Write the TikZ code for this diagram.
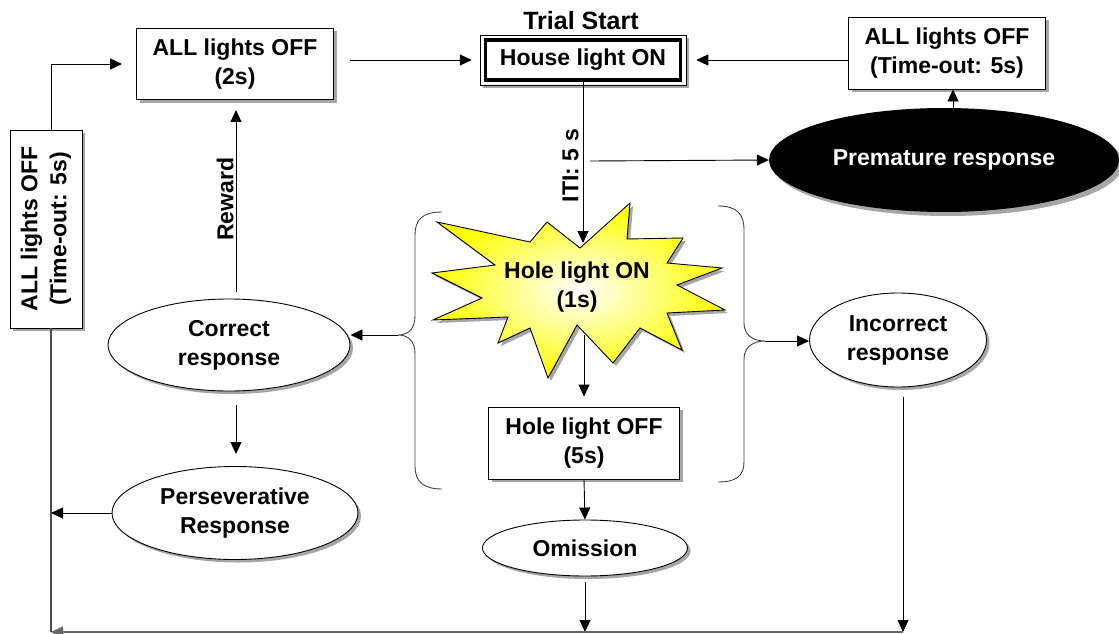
\documentclass[tikz,border=0pt]{standalone}
\usepackage{fontspec}
\setmainfont{Liberation Sans}
\usetikzlibrary{shapes.geometric,arrows.meta,shadows,calc}
\begin{document}
\begin{tikzpicture}[x=1pt,y=-1pt,
  every node/.style={font=\fontsize{23}{29}\selectfont\bfseries, align=center, inner sep=0pt},
  shad/.style={drop shadow={shadow xshift=3pt, shadow yshift=-3pt, fill=black!35, opacity=1}},
  box/.style={rectangle, draw, fill=white, line width=0.9pt, shad},
  oval/.style={ellipse, draw, fill=white, line width=0.9pt, shad},
  arr/.style={-{Triangle[length=12pt,width=11pt]}, line width=0.9pt},
  brace/.style={draw=black!75, line width=0.9pt},
  grayline/.style={draw=black!60, line width=1.6pt},
  starpath/.style={insert path={(437,222) -- (530,242) -- (547,222) -- (580,248) -- (630,203) -- (627,239) -- (683,238) -- (667,263) -- (722,268) -- (677,285) -- (725,310) -- (667,313) -- (682,350) -- (640,328) -- (613,363) -- (577,325) -- (548,378) -- (530,328) -- (498,343) -- (508,317) -- (433,320) -- (482,298) -- (432,273) -- (495,265) -- cycle}}
]
\useasboundingbox (0,0) rectangle (1119,634);

% top row
\node[box, minimum width=197pt, minimum height=71pt] (off2) at (235,64) {ALL lights OFF\\(2s)};
\fill[black!35] (483,38) rectangle (689,88);
\draw[fill=white, line width=0.9pt] (480,35) rectangle (686,85);
\node[draw, line width=3.5pt, fill=white, minimum width=195pt, minimum height=40pt] (house) at (583,60) {House light ON};
\node[font=\fontsize{25}{29}\selectfont\bfseries] (trial) at (581,21) {Trial Start};
\node[box, minimum width=197pt, minimum height=72pt] (offR) at (947,53) {ALL lights OFF\\(Time-out: 5s)};
\fill[black!35] (948,164) ellipse [x radius=175pt, y radius=52pt];
\fill[black] (944,160) ellipse [x radius=175pt, y radius=52pt];
\node[ellipse, text=white, minimum width=350pt, minimum height=104pt] (prem) at (944,160) {Premature response};

% left time-out box
\fill[black!35] (13,133) rectangle (85,331);
\node[rectangle, draw, fill=white, line width=0.9pt, rotate=90, minimum width=198pt, minimum height=72pt] (offL) at (46,229) {ALL lights OFF\\(Time-out: 5s)};

% star
\fill[black!35, shift={(3,3)}] [starpath];
\shade[draw=black, line width=0.9pt, inner color=white, outer color=yellow] [starpath];
\node (star) at (577,287) {Hole light ON\\(1s)};
\coordinate (starTop) at (583,243);
\coordinate (starBot) at (584,335);

% other nodes
\node[oval, minimum width=242pt, minimum height=92pt] (corr) at (229,345) {Correct\\response};
\node[oval, minimum width=246pt, minimum height=93pt] (pers) at (235,513) {Perseverative\\Response};
\node[box, minimum width=191pt, minimum height=72pt] (hoff) at (584,443) {Hole light OFF\\(5s)};
\node[oval, minimum width=205pt, minimum height=56pt] (omis) at (585,548) {Omission};
\node[oval, minimum width=177pt, minimum height=94pt] (inc) at (898,340) {Incorrect\\response};

% braces
\coordinate (lbr) at (398,335);
\coordinate (rbr) at (765,341);
\draw[brace] (442,212) .. controls (422,212) and (415,220) .. (415,235) -- (415,316) .. controls (415,328) and (409,335) .. (lbr) .. controls (409,335) and (415,342) .. (415,354) -- (415,466) .. controls (415,482) and (424,489) .. (442,489);
\draw[brace] (718,206) .. controls (737,206) and (744,214) .. (744,230) -- (744,323) .. controls (744,334) and (752,341) .. (rbr) .. controls (752,341) and (744,348) .. (744,359) -- (744,462) .. controls (744,476) and (736,482) .. (718,482);

% bottom return
\coordinate (botL) at (51,632);
\coordinate (botR) at (903,632);
\coordinate (itiB) at (590,161);

% connectors
\draw[arr, shorten <=16pt, shorten >=12pt] (off2.east |- house.west) -- (house.west);
\draw[arr, shorten >=14pt] (offR.west |- house.east) -- (house.east);
\draw[arr] (prem.north -| offR.south) ++(6,0) coordinate (pn) -- (pn |- offR.south);
\draw[arr] (house.south) -- (starTop) node[pos=0.52, rotate=90, anchor=south, yshift=4pt] (iti) {ITI: 5 s};
\draw[arr] (itiB) -- (prem.west);
\draw[arr, shorten >=10pt] (starBot) -- (starBot |- hoff.north);
\draw[arr] (hoff.south) -- (omis.north);
\draw[arr, shorten <=6pt] (omis.south) -- (omis.south |- botL);
\draw[arr, shorten <=10pt] (inc.south -| botR) -- (botR);
\draw[arr, grayline] (botR) -- (botL);
\draw[draw=black!70, line width=1.1pt] ([xshift=5pt]offL.west) -- (botL);
\draw[arr] ([xshift=5pt]offL.east) |- ([xshift=-14pt]off2.west);
\draw[arr] (lbr) -- (corr.east |- lbr);
\draw[arr] (rbr) -- (inc.west |- rbr);
\draw[arr, shorten <=7pt, shorten >=10pt] ([xshift=7pt]corr.north) -- ([xshift=7pt]corr.north |- off2.south) node[midway, rotate=90, anchor=south, yshift=2pt] (rew) {Reward};
\draw[arr, shorten <=14pt, shorten >=12pt] ([xshift=7pt]corr.south) -- ([xshift=7pt]corr.south |- pers.north);
\draw[arr] (pers.west) -- (pers.west -| botL);
\end{tikzpicture}
\end{document}
